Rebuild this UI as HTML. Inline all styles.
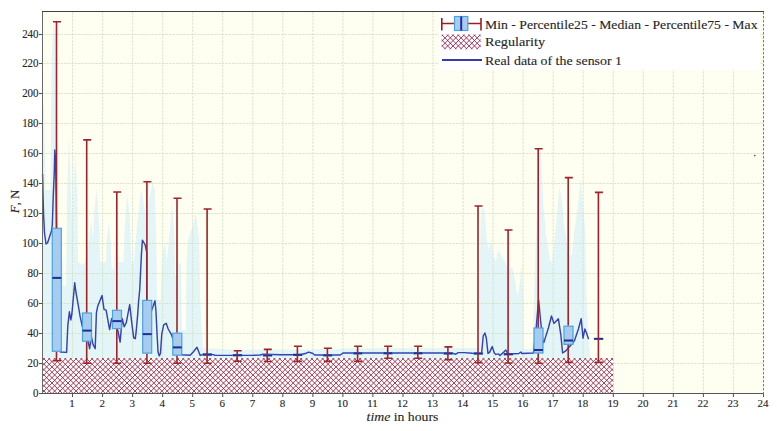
<!DOCTYPE html><html><head><meta charset="utf-8"><style>html,body{margin:0;padding:0;background:#fff;width:777px;height:431px;overflow:hidden}svg{display:block}text{font-family:"Liberation Serif", serif;fill:#262626;stroke:#262626;stroke-width:0.12px}</style></head><body>
<svg width="777" height="431" viewBox="0 0 777 431">
<defs><clipPath id="pc"><rect x="42.5" y="11.5" width="721" height="382"/></clipPath></defs>
<rect x="42.5" y="11.5" width="721.0" height="382.0" fill="#fefef1"/>
<polygon points="42.5,393.0 42.5,105.0 44.0,105.0 45.5,190.0 50.5,190.0 51.5,60.0 53.5,22.0 55.5,40.0 56.5,200.0 58.0,240.0 62.5,262.0 63.0,286.0 66.0,286.0 66.5,262.0 67.0,200.0 69.0,136.0 71.2,200.0 72.2,230.0 73.3,190.0 75.4,155.0 77.5,200.0 78.0,262.0 82.7,265.0 85.0,262.0 89.0,240.0 91.0,220.0 93.0,240.0 94.2,210.0 96.8,188.0 99.4,230.0 100.0,262.0 106.0,262.0 106.7,240.0 108.8,222.0 110.9,245.0 111.5,268.0 114.0,270.0 116.0,230.0 118.0,262.0 123.5,262.0 124.5,230.0 127.0,195.0 129.7,215.0 131.4,262.0 134.0,262.0 136.6,230.0 141.0,189.0 146.0,215.0 149.0,200.0 152.5,182.0 155.0,190.0 156.4,250.0 157.0,300.0 160.6,300.0 161.7,265.0 162.7,255.0 165.0,241.0 166.9,260.0 170.0,230.0 172.0,201.0 174.2,230.0 175.0,276.0 177.0,276.0 178.0,262.0 181.0,264.0 181.8,330.0 185.9,330.0 186.5,262.0 187.0,252.0 188.0,240.0 193.0,225.0 196.0,213.0 199.2,240.0 200.3,300.0 201.6,330.0 203.0,348.0 240.0,350.0 280.0,349.5 340.0,349.3 342.0,348.2 479.3,348.0 479.4,300.0 480.5,230.0 482.5,205.5 484.5,210.0 486.8,240.0 489.0,250.0 491.4,239.0 493.0,255.0 496.0,262.0 498.0,250.0 500.7,255.0 505.0,262.0 508.8,270.0 512.3,267.0 515.0,280.0 517.0,295.0 519.0,290.0 521.6,265.0 523.0,290.0 523.5,349.0 532.6,349.0 534.0,300.0 537.3,200.0 539.0,151.0 541.0,151.0 543.0,200.0 546.0,235.0 550.0,260.0 552.0,262.0 553.5,250.0 557.0,215.0 559.5,187.0 562.0,200.0 564.0,225.0 566.5,240.0 568.0,255.0 572.0,255.0 573.8,235.0 577.5,210.0 580.5,180.0 582.5,200.0 585.2,230.0 586.5,300.0 588.6,340.0 590.0,352.0 590.0,393.0" fill="#e4f5f7" clip-path="url(#pc)"/>
<path d="M72.5,12V393M102.6,12V393M132.6,12V393M162.7,12V393M192.7,12V393M222.7,12V393M252.8,12V393M282.8,12V393M312.9,12V393M342.9,12V393M372.9,12V393M403.0,12V393M433.0,12V393M463.1,12V393M493.1,12V393M523.1,12V393M553.2,12V393M583.2,12V393M613.3,12V393M643.3,12V393M673.3,12V393M703.4,12V393M733.4,12V393M43,363.5H763M43,333.5H763M43,303.5H763M43,273.5H763M43,243.5H763M43,213.5H763M43,183.5H763M43,153.5H763M43,123.5H763M43,93.5H763M43,63.5H763M43,34.5H763" stroke="#d0e0c4" stroke-width="0.8" stroke-dasharray="2.5,1" fill="none"/>
<rect x="42.50" y="358.00" width="570.76" height="35.50" fill="#fffff8"/>
<clipPath id="hc7"><rect x="42.50" y="358.00" width="570.76" height="35.50"/></clipPath>
<path clip-path="url(#hc7)" d="M39.50,-224.42L616.26,352.34M39.50,-219.06L616.26,357.70M39.50,-213.70L616.26,363.06M39.50,-208.34L616.26,368.42M39.50,-202.98L616.26,373.78M39.50,-197.62L616.26,379.14M39.50,-192.26L616.26,384.50M39.50,-186.90L616.26,389.86M39.50,-181.54L616.26,395.22M39.50,-176.18L616.26,400.58M39.50,-170.82L616.26,405.94M39.50,-165.46L616.26,411.30M39.50,-160.10L616.26,416.66M39.50,-154.74L616.26,422.02M39.50,-149.38L616.26,427.38M39.50,-144.02L616.26,432.74M39.50,-138.66L616.26,438.10M39.50,-133.30L616.26,443.46M39.50,-127.94L616.26,448.82M39.50,-122.58L616.26,454.18M39.50,-117.22L616.26,459.54M39.50,-111.86L616.26,464.90M39.50,-106.50L616.26,470.26M39.50,-101.14L616.26,475.62M39.50,-95.78L616.26,480.98M39.50,-90.42L616.26,486.34M39.50,-85.06L616.26,491.70M39.50,-79.70L616.26,497.06M39.50,-74.34L616.26,502.42M39.50,-68.98L616.26,507.78M39.50,-63.62L616.26,513.14M39.50,-58.26L616.26,518.50M39.50,-52.90L616.26,523.86M39.50,-47.54L616.26,529.22M39.50,-42.18L616.26,534.58M39.50,-36.82L616.26,539.94M39.50,-31.46L616.26,545.30M39.50,-26.10L616.26,550.66M39.50,-20.74L616.26,556.02M39.50,-15.38L616.26,561.38M39.50,-10.02L616.26,566.74M39.50,-4.66L616.26,572.10M39.50,0.70L616.26,577.46M39.50,6.06L616.26,582.82M39.50,11.42L616.26,588.18M39.50,16.78L616.26,593.54M39.50,22.14L616.26,598.90M39.50,27.50L616.26,604.26M39.50,32.86L616.26,609.62M39.50,38.22L616.26,614.98M39.50,43.58L616.26,620.34M39.50,48.94L616.26,625.70M39.50,54.30L616.26,631.06M39.50,59.66L616.26,636.42M39.50,65.02L616.26,641.78M39.50,70.38L616.26,647.14M39.50,75.74L616.26,652.50M39.50,81.10L616.26,657.86M39.50,86.46L616.26,663.22M39.50,91.82L616.26,668.58M39.50,97.18L616.26,673.94M39.50,102.54L616.26,679.30M39.50,107.90L616.26,684.66M39.50,113.26L616.26,690.02M39.50,118.62L616.26,695.38M39.50,123.98L616.26,700.74M39.50,129.34L616.26,706.10M39.50,134.70L616.26,711.46M39.50,140.06L616.26,716.82M39.50,145.42L616.26,722.18M39.50,150.78L616.26,727.54M39.50,156.14L616.26,732.90M39.50,161.50L616.26,738.26M39.50,166.86L616.26,743.62M39.50,172.22L616.26,748.98M39.50,177.58L616.26,754.34M39.50,182.94L616.26,759.70M39.50,188.30L616.26,765.06M39.50,193.66L616.26,770.42M39.50,199.02L616.26,775.78M39.50,204.38L616.26,781.14M39.50,209.74L616.26,786.50M39.50,215.10L616.26,791.86M39.50,220.46L616.26,797.22M39.50,225.82L616.26,802.58M39.50,231.18L616.26,807.94M39.50,236.54L616.26,813.30M39.50,241.90L616.26,818.66M39.50,247.26L616.26,824.02M39.50,252.62L616.26,829.38M39.50,257.98L616.26,834.74M39.50,263.34L616.26,840.10M39.50,268.70L616.26,845.46M39.50,274.06L616.26,850.82M39.50,279.42L616.26,856.18M39.50,284.78L616.26,861.54M39.50,290.14L616.26,866.90M39.50,295.50L616.26,872.26M39.50,300.86L616.26,877.62M39.50,306.22L616.26,882.98M39.50,311.58L616.26,888.34M39.50,316.94L616.26,893.70M39.50,322.30L616.26,899.06M39.50,327.66L616.26,904.42M39.50,333.02L616.26,909.78M39.50,338.38L616.26,915.14M39.50,343.74L616.26,920.50M39.50,349.10L616.26,925.86M39.50,354.46L616.26,931.22M39.50,359.82L616.26,936.58M39.50,365.18L616.26,941.94M39.50,370.54L616.26,947.30M39.50,375.90L616.26,952.66M39.50,381.26L616.26,958.02M39.50,386.62L616.26,963.38M39.50,391.98L616.26,968.74M39.50,397.34L616.26,974.10M39.50,352.58L616.26,-224.18M39.50,357.94L616.26,-218.82M39.50,363.30L616.26,-213.46M39.50,368.66L616.26,-208.10M39.50,374.02L616.26,-202.74M39.50,379.38L616.26,-197.38M39.50,384.74L616.26,-192.02M39.50,390.10L616.26,-186.66M39.50,395.46L616.26,-181.30M39.50,400.82L616.26,-175.94M39.50,406.18L616.26,-170.58M39.50,411.54L616.26,-165.22M39.50,416.90L616.26,-159.86M39.50,422.26L616.26,-154.50M39.50,427.62L616.26,-149.14M39.50,432.98L616.26,-143.78M39.50,438.34L616.26,-138.42M39.50,443.70L616.26,-133.06M39.50,449.06L616.26,-127.70M39.50,454.42L616.26,-122.34M39.50,459.78L616.26,-116.98M39.50,465.14L616.26,-111.62M39.50,470.50L616.26,-106.26M39.50,475.86L616.26,-100.90M39.50,481.22L616.26,-95.54M39.50,486.58L616.26,-90.18M39.50,491.94L616.26,-84.82M39.50,497.30L616.26,-79.46M39.50,502.66L616.26,-74.10M39.50,508.02L616.26,-68.74M39.50,513.38L616.26,-63.38M39.50,518.74L616.26,-58.02M39.50,524.10L616.26,-52.66M39.50,529.46L616.26,-47.30M39.50,534.82L616.26,-41.94M39.50,540.18L616.26,-36.58M39.50,545.54L616.26,-31.22M39.50,550.90L616.26,-25.86M39.50,556.26L616.26,-20.50M39.50,561.62L616.26,-15.14M39.50,566.98L616.26,-9.78M39.50,572.34L616.26,-4.42M39.50,577.70L616.26,0.94M39.50,583.06L616.26,6.30M39.50,588.42L616.26,11.66M39.50,593.78L616.26,17.02M39.50,599.14L616.26,22.38M39.50,604.50L616.26,27.74M39.50,609.86L616.26,33.10M39.50,615.22L616.26,38.46M39.50,620.58L616.26,43.82M39.50,625.94L616.26,49.18M39.50,631.30L616.26,54.54M39.50,636.66L616.26,59.90M39.50,642.02L616.26,65.26M39.50,647.38L616.26,70.62M39.50,652.74L616.26,75.98M39.50,658.10L616.26,81.34M39.50,663.46L616.26,86.70M39.50,668.82L616.26,92.06M39.50,674.18L616.26,97.42M39.50,679.54L616.26,102.78M39.50,684.90L616.26,108.14M39.50,690.26L616.26,113.50M39.50,695.62L616.26,118.86M39.50,700.98L616.26,124.22M39.50,706.34L616.26,129.58M39.50,711.70L616.26,134.94M39.50,717.06L616.26,140.30M39.50,722.42L616.26,145.66M39.50,727.78L616.26,151.02M39.50,733.14L616.26,156.38M39.50,738.50L616.26,161.74M39.50,743.86L616.26,167.10M39.50,749.22L616.26,172.46M39.50,754.58L616.26,177.82M39.50,759.94L616.26,183.18M39.50,765.30L616.26,188.54M39.50,770.66L616.26,193.90M39.50,776.02L616.26,199.26M39.50,781.38L616.26,204.62M39.50,786.74L616.26,209.98M39.50,792.10L616.26,215.34M39.50,797.46L616.26,220.70M39.50,802.82L616.26,226.06M39.50,808.18L616.26,231.42M39.50,813.54L616.26,236.78M39.50,818.90L616.26,242.14M39.50,824.26L616.26,247.50M39.50,829.62L616.26,252.86M39.50,834.98L616.26,258.22M39.50,840.34L616.26,263.58M39.50,845.70L616.26,268.94M39.50,851.06L616.26,274.30M39.50,856.42L616.26,279.66M39.50,861.78L616.26,285.02M39.50,867.14L616.26,290.38M39.50,872.50L616.26,295.74M39.50,877.86L616.26,301.10M39.50,883.22L616.26,306.46M39.50,888.58L616.26,311.82M39.50,893.94L616.26,317.18M39.50,899.30L616.26,322.54M39.50,904.66L616.26,327.90M39.50,910.02L616.26,333.26M39.50,915.38L616.26,338.62M39.50,920.74L616.26,343.98M39.50,926.10L616.26,349.34M39.50,931.46L616.26,354.70M39.50,936.82L616.26,360.06M39.50,942.18L616.26,365.42M39.50,947.54L616.26,370.78M39.50,952.90L616.26,376.14M39.50,958.26L616.26,381.50M39.50,963.62L616.26,386.86M39.50,968.98L616.26,392.22M39.50,974.34L616.26,397.58" stroke="#921545" stroke-width="0.85" fill="none"/>
<polyline points="42.6,174.0 43.0,195.0 43.6,215.0 44.5,233.0 46.0,244.0 47.5,243.0 49.5,237.0 51.5,231.0 52.3,225.0 53.3,195.0 54.3,172.0 54.8,150.0 55.6,160.0 56.2,200.0 56.5,228.0 59.0,300.0 60.5,352.0 66.6,352.4 67.8,325.7 69.4,311.8 70.8,319.9 71.9,314.0 74.7,282.8 75.9,292.0 78.2,304.8 80.1,316.4 82.4,326.8 86.0,335.0 88.2,341.8 89.6,348.7 91.4,336.9 93.1,344.6 95.2,348.7 96.4,312.9 97.8,305.9 102.0,295.4 104.0,309.4 106.1,310.1 109.6,329.6 111.7,318.4 113.1,320.5 118.0,331.0 120.1,342.1 122.2,318.4 124.2,326.8 126.3,322.6 129.7,304.6 132.1,325.7 133.7,337.9 135.3,338.7 136.1,332.2 137.7,314.4 138.6,301.4 139.7,290.0 141.5,253.0 142.4,240.2 145.2,245.0 146.7,252.0 146.7,300.0 150.0,312.0 151.5,310.7 155.0,300.7 156.0,312.0 156.9,330.6 158.0,351.7 159.2,355.8 160.5,353.3 161.8,333.9 163.7,324.9 166.2,323.3 168.2,329.0 171.3,334.3 175.0,345.0 181.8,354.7 190.1,355.2 193.2,352.0 197.0,347.3 200.2,355.4 203.9,354.2 213.2,354.6 215.0,355.2 250.0,355.4 260.0,355.0 263.0,354.2 273.0,354.5 280.0,354.7 300.0,354.7 306.3,353.2 308.6,352.1 312.4,353.2 314.7,355.0 340.2,355.0 343.3,352.9 451.5,352.9 455.7,354.2 458.3,352.6 464.0,352.6 472.4,353.2 481.6,353.4 482.4,345.0 483.2,336.0 484.9,333.0 486.3,338.0 488.0,353.4 489.6,352.4 492.2,346.6 494.3,352.9 495.8,354.4 498.5,353.9 500.0,355.5 504.3,351.6 505.8,350.0 508.0,354.0 518.8,353.5 520.9,352.0 521.9,353.5 533.4,353.0 536.0,330.0 538.6,299.8 540.7,321.8 542.8,340.5 543.8,342.6 548.4,328.0 551.5,316.0 553.9,323.4 558.4,318.8 560.8,334.5 562.6,353.0 565.4,351.2 572.8,343.0 574.7,340.1 578.4,329.0 581.2,318.8 583.0,338.2 584.9,329.0 586.7,333.6 588.6,339.2" fill="none" stroke="#3343b2" stroke-width="1.45" stroke-linejoin="round"/>
<rect x="52.3" y="228.3" width="9" height="123.0" fill="#a8cbf0" stroke="#4aa2de" stroke-width="1.2"/>
<path d="M52.3,277.9H61.3" stroke="#1f2e95" stroke-width="2"/>
<rect x="82.5" y="313.0" width="9" height="28.2" fill="#a8cbf0" stroke="#4aa2de" stroke-width="1.2"/>
<path d="M82.5,330.6H91.5" stroke="#1f2e95" stroke-width="2"/>
<rect x="112.5" y="310.3" width="9" height="18.3" fill="#a8cbf0" stroke="#4aa2de" stroke-width="1.2"/>
<path d="M112.5,321.1H121.5" stroke="#1f2e95" stroke-width="2"/>
<rect x="142.7" y="300.4" width="9" height="52.7" fill="#a8cbf0" stroke="#4aa2de" stroke-width="1.2"/>
<path d="M142.7,334.1H151.7" stroke="#1f2e95" stroke-width="2"/>
<rect x="172.8" y="333.2" width="9" height="22.0" fill="#a8cbf0" stroke="#4aa2de" stroke-width="1.2"/>
<path d="M172.8,347.4H181.8" stroke="#1f2e95" stroke-width="2"/>
<rect x="202.9" y="353.7" width="9" height="1.8" fill="#a8cbf0" stroke="#4aa2de" stroke-width="0.6"/>
<path d="M202.9,354.6H211.9" stroke="#1f2e95" stroke-width="2"/>
<rect x="233.0" y="354.4" width="9" height="1.6" fill="#a8cbf0" stroke="#4aa2de" stroke-width="0.6"/>
<path d="M233.0,355.2H242.0" stroke="#1f2e95" stroke-width="2"/>
<rect x="263.1" y="354.6" width="9" height="1.4" fill="#a8cbf0" stroke="#4aa2de" stroke-width="0.6"/>
<path d="M263.1,355.4H272.1" stroke="#1f2e95" stroke-width="2"/>
<rect x="293.2" y="354.0" width="9" height="1.6" fill="#a8cbf0" stroke="#4aa2de" stroke-width="0.6"/>
<path d="M293.2,354.9H302.2" stroke="#1f2e95" stroke-width="2"/>
<rect x="323.2" y="354.4" width="9" height="1.6" fill="#a8cbf0" stroke="#4aa2de" stroke-width="0.6"/>
<path d="M323.2,355.3H332.2" stroke="#1f2e95" stroke-width="2"/>
<rect x="353.4" y="352.6" width="9" height="1.4" fill="#a8cbf0" stroke="#4aa2de" stroke-width="0.6"/>
<path d="M353.4,353.3H362.4" stroke="#1f2e95" stroke-width="2"/>
<rect x="383.5" y="352.4" width="9" height="1.6" fill="#a8cbf0" stroke="#4aa2de" stroke-width="0.6"/>
<path d="M383.5,353.2H392.5" stroke="#1f2e95" stroke-width="2"/>
<rect x="413.6" y="352.4" width="9" height="1.6" fill="#a8cbf0" stroke="#4aa2de" stroke-width="0.6"/>
<path d="M413.6,353.2H422.6" stroke="#1f2e95" stroke-width="2"/>
<rect x="443.7" y="352.6" width="9" height="1.6" fill="#a8cbf0" stroke="#4aa2de" stroke-width="0.6"/>
<path d="M443.7,353.4H452.7" stroke="#1f2e95" stroke-width="2"/>
<rect x="473.8" y="352.6" width="9" height="1.6" fill="#a8cbf0" stroke="#4aa2de" stroke-width="0.6"/>
<path d="M473.8,353.5H482.8" stroke="#1f2e95" stroke-width="2"/>
<rect x="503.9" y="353.4" width="9" height="1.6" fill="#a8cbf0" stroke="#4aa2de" stroke-width="0.6"/>
<path d="M503.9,354.2H512.9" stroke="#1f2e95" stroke-width="2"/>
<rect x="534.0" y="328.0" width="9" height="25.0" fill="#a8cbf0" stroke="#4aa2de" stroke-width="1.2"/>
<path d="M534.0,350.0H543.0" stroke="#1f2e95" stroke-width="2"/>
<rect x="564.0" y="326.2" width="9" height="18.2" fill="#a8cbf0" stroke="#4aa2de" stroke-width="1.2"/>
<path d="M564.0,340.5H573.0" stroke="#1f2e95" stroke-width="2"/>
<rect x="594.1" y="338.3" width="9" height="1.0" fill="#a8cbf0" stroke="#4aa2de" stroke-width="0.6"/>
<path d="M594.1,338.8H603.1" stroke="#1f2e95" stroke-width="2"/>
<path d="M56.5,360.8V351.9M56.5,227.7V21.8M53.0,360.8H61.0M53.0,21.8H61.0M86.7,363.2V341.8M86.7,312.4V139.9M83.2,363.2H91.2M83.2,139.9H91.2M116.8,363.2V329.2M116.8,309.7V192.0M113.2,363.2H121.2M113.2,192.0H121.2M146.9,363.2V353.7M146.9,299.8V181.8M143.4,363.2H151.4M143.4,181.8H151.4M177.0,363.2V355.8M177.0,332.6V198.2M173.5,363.2H181.5M173.5,198.2H181.5M207.1,363.2V209.0M203.6,363.2H211.6M203.6,209.0H211.6M237.2,361.2V350.7M233.7,361.2H241.7M233.7,350.7H241.7M267.2,361.5V349.4M263.8,361.5H271.8M263.8,349.4H271.8M297.4,361.4V346.2M293.9,361.4H301.9M293.9,346.2H301.9M327.4,361.4V348.2M323.9,361.4H331.9M323.9,348.2H331.9M357.6,361.4V346.2M354.1,361.4H362.1M354.1,346.2H362.1M387.7,358.3V346.2M384.2,358.3H392.2M384.2,346.2H392.2M417.8,358.3V346.2M414.2,358.3H422.2M414.2,346.2H422.2M447.9,359.7V346.9M444.4,359.7H452.4M444.4,346.9H452.4M478.0,362.6V206.0M474.5,362.6H482.5M474.5,206.0H482.5M508.1,363.0V230.0M504.6,363.0H512.5M504.6,230.0H512.5M538.2,363.2V353.6M538.2,327.4V148.8M534.7,363.2H542.7M534.7,148.8H542.7M568.2,362.4V345.0M568.2,325.6V177.6M564.8,362.4H572.8M564.8,177.6H572.8M598.4,362.4V192.4M594.9,362.4H602.9M594.9,192.4H602.9" stroke="#a0222a" stroke-width="1.6" fill="none"/>
<path d="M42.5,11V394" stroke="#6a6a6a" stroke-width="1"/>
<path d="M42,393.5H764" stroke="#555" stroke-width="1"/>
<path d="M42,11.5H764" stroke="#404040" stroke-width="1.2"/>
<path d="M763.5,12V394" stroke="#7a7a7a" stroke-width="1" stroke-dasharray="2.5,1.5"/>
<path d="M39,393.5H42M39,363.5H42M39,333.5H42M39,303.5H42M39,273.5H42M39,243.5H42M39,213.5H42M39,183.5H42M39,153.5H42M39,123.5H42M39,93.5H42M39,63.5H42M39,34.5H42M72.5,394V397M102.6,394V397M132.6,394V397M162.7,394V397M192.7,394V397M222.7,394V397M252.8,394V397M282.8,394V397M312.9,394V397M342.9,394V397M372.9,394V397M403.0,394V397M433.0,394V397M463.1,394V397M493.1,394V397M523.1,394V397M553.2,394V397M583.2,394V397M613.3,394V397M643.3,394V397M673.3,394V397M703.4,394V397M733.4,394V397M763.5,394V397" stroke="#505050" stroke-width="1"/>
<text transform="translate(38.6,397.0) scale(1,1.12)" font-size="11" text-anchor="end">0</text>
<text transform="translate(38.6,367.0) scale(1,1.12)" font-size="11" text-anchor="end">20</text>
<text transform="translate(38.6,337.0) scale(1,1.12)" font-size="11" text-anchor="end">40</text>
<text transform="translate(38.6,307.0) scale(1,1.12)" font-size="11" text-anchor="end">60</text>
<text transform="translate(38.6,277.0) scale(1,1.12)" font-size="11" text-anchor="end">80</text>
<text transform="translate(38.6,247.0) scale(1,1.12)" font-size="11" text-anchor="end">100</text>
<text transform="translate(38.6,217.0) scale(1,1.12)" font-size="11" text-anchor="end">120</text>
<text transform="translate(38.6,187.0) scale(1,1.12)" font-size="11" text-anchor="end">140</text>
<text transform="translate(38.6,157.0) scale(1,1.12)" font-size="11" text-anchor="end">160</text>
<text transform="translate(38.6,127.0) scale(1,1.12)" font-size="11" text-anchor="end">180</text>
<text transform="translate(38.6,97.0) scale(1,1.12)" font-size="11" text-anchor="end">200</text>
<text transform="translate(38.6,67.0) scale(1,1.12)" font-size="11" text-anchor="end">220</text>
<text transform="translate(38.6,38.0) scale(1,1.12)" font-size="11" text-anchor="end">240</text>
<text x="72.1" y="407" font-size="11" text-anchor="middle">1</text>
<text x="102.2" y="407" font-size="11" text-anchor="middle">2</text>
<text x="132.2" y="407" font-size="11" text-anchor="middle">3</text>
<text x="162.3" y="407" font-size="11" text-anchor="middle">4</text>
<text x="192.3" y="407" font-size="11" text-anchor="middle">5</text>
<text x="222.3" y="407" font-size="11" text-anchor="middle">6</text>
<text x="252.4" y="407" font-size="11" text-anchor="middle">7</text>
<text x="282.4" y="407" font-size="11" text-anchor="middle">8</text>
<text x="312.5" y="407" font-size="11" text-anchor="middle">9</text>
<text x="342.5" y="407" font-size="11" text-anchor="middle">10</text>
<text x="372.5" y="407" font-size="11" text-anchor="middle">11</text>
<text x="402.6" y="407" font-size="11" text-anchor="middle">12</text>
<text x="432.6" y="407" font-size="11" text-anchor="middle">13</text>
<text x="462.7" y="407" font-size="11" text-anchor="middle">14</text>
<text x="492.7" y="407" font-size="11" text-anchor="middle">15</text>
<text x="522.7" y="407" font-size="11" text-anchor="middle">16</text>
<text x="552.8" y="407" font-size="11" text-anchor="middle">17</text>
<text x="582.8" y="407" font-size="11" text-anchor="middle">18</text>
<text x="612.9" y="407" font-size="11" text-anchor="middle">19</text>
<text x="642.9" y="407" font-size="11" text-anchor="middle">20</text>
<text x="672.9" y="407" font-size="11" text-anchor="middle">21</text>
<text x="703.0" y="407" font-size="11" text-anchor="middle">22</text>
<text x="733.0" y="407" font-size="11" text-anchor="middle">23</text>
<text x="763.1" y="407" font-size="11" text-anchor="middle">24</text>
<text x="366.6" y="420.6" font-size="12.5" textLength="71.8" lengthAdjust="spacingAndGlyphs"><tspan font-style="italic">time</tspan> in hours</text>
<text transform="translate(19.2,213.3) rotate(-90)" x="0" y="0" font-size="12.5" textLength="23.7" lengthAdjust="spacingAndGlyphs"><tspan font-style="italic">F</tspan>, N</text>
<circle cx="754.8" cy="155.6" r="0.8" fill="#444"/>
<rect x="439" y="12" width="321" height="57.8" fill="#ffffff"/>
<path d="M441.8,23.5H454.5M467.8,23.5H481M441.8,18V30.5M481,18V30.5" stroke="#9c1d24" stroke-width="1.6" fill="none"/>
<rect x="454.5" y="16.5" width="13.3" height="14" fill="#a8cbf0" stroke="#4aa2de" stroke-width="1.2"/>
<path d="M461.2,16.5V30.5" stroke="#1f2e95" stroke-width="2"/>
<rect x="441.60" y="34.50" width="39.10" height="14.80" fill="#ffffff"/>
<clipPath id="hc99"><rect x="441.60" y="34.50" width="39.10" height="14.80"/></clipPath>
<path clip-path="url(#hc99)" d="M438.60,-16.74L483.70,28.36M438.60,-11.38L483.70,33.72M438.60,-6.02L483.70,39.08M438.60,-0.66L483.70,44.44M438.60,4.70L483.70,49.80M438.60,10.06L483.70,55.16M438.60,15.42L483.70,60.52M438.60,20.78L483.70,65.88M438.60,26.14L483.70,71.24M438.60,31.50L483.70,76.60M438.60,36.86L483.70,81.96M438.60,42.22L483.70,87.32M438.60,47.58L483.70,92.68M438.60,52.94L483.70,98.04M438.60,28.18L483.70,-16.92M438.60,33.54L483.70,-11.56M438.60,38.90L483.70,-6.20M438.60,44.26L483.70,-0.84M438.60,49.62L483.70,4.52M438.60,54.98L483.70,9.88M438.60,60.34L483.70,15.24M438.60,65.70L483.70,20.60M438.60,71.06L483.70,25.96M438.60,76.42L483.70,31.32M438.60,81.78L483.70,36.68M438.60,87.14L483.70,42.04M438.60,92.50L483.70,47.40M438.60,97.86L483.70,52.76" stroke="#921545" stroke-width="0.85" fill="none"/>
<path d="M442,60H482" stroke="#3a3aa8" stroke-width="2"/>
<text x="485" y="28.5" font-size="12.5" textLength="272.5" lengthAdjust="spacingAndGlyphs">Min - Percentile25 - Median - Percentile75 - Max</text>
<text x="485" y="46" font-size="12.5" textLength="60" lengthAdjust="spacingAndGlyphs">Regularity</text>
<text x="485" y="64.5" font-size="12.5" textLength="137" lengthAdjust="spacingAndGlyphs">Real data of the sensor 1</text>
</svg></body></html>
